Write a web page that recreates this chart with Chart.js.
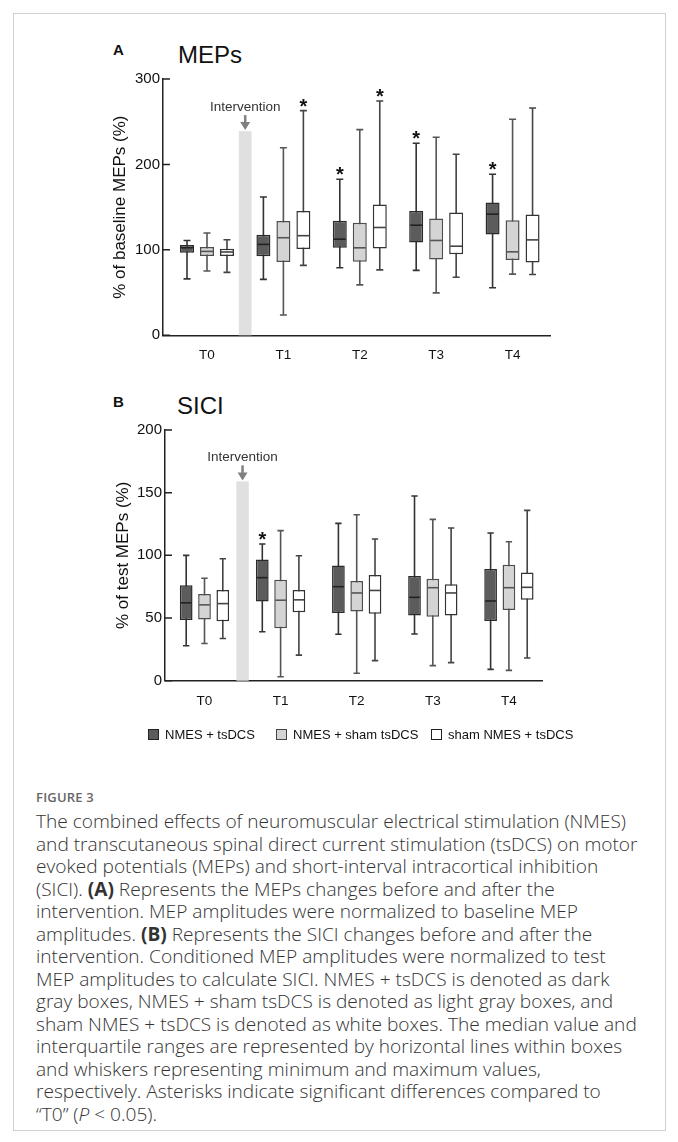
<!DOCTYPE html>
<html><head><meta charset="utf-8">
<script src="https://cdn.jsdelivr.net/npm/chart.js@4.4.1/dist/chart.umd.min.js"></script>
<style>
html,body{margin:0;padding:0;background:#fff;}
body{width:678px;height:1142px;position:relative;overflow:hidden;font-family:"Liberation Sans",Arial,sans-serif;}
#frame{position:absolute;left:13px;top:13px;width:653px;height:1118px;border:1.5px solid #d0d0d0;box-sizing:border-box;}
canvas{position:absolute;left:0;}
.plabel{position:absolute;font-weight:bold;font-size:15px;color:#111;line-height:1;}
.ptitle{position:absolute;font-size:24px;color:#111;line-height:1;}
#legend{position:absolute;top:727px;left:0;width:678px;height:16px;font-size:13px;color:#111;}
.li{position:absolute;top:0;display:flex;align-items:center;white-space:nowrap;}
.sw{width:11px;height:11px;border:1.3px solid #222;margin-right:6px;box-sizing:border-box;}
#figlab{position:absolute;left:36px;top:788px;font-family:"Open Sans",sans-serif;font-weight:600;font-size:13px;color:#666;letter-spacing:0.2px;}
#caption{position:absolute;left:36px;top:810px;font-family:"Open Sans",sans-serif;font-weight:300;font-size:19.1px;line-height:22.5px;color:#333;}
#caption div{white-space:nowrap;}
#caption b{font-weight:700;}
</style></head>
<body>
<div id="frame"></div>
<div class="plabel" style="left:113px;top:42px;">A</div>
<div class="ptitle" style="left:178px;top:43px;">MEPs</div>
<canvas id="cA" width="678" height="380" style="top:0"></canvas>
<div class="plabel" style="left:113px;top:394px;">B</div>
<div class="ptitle" style="left:177px;top:394px;">SICI</div>
<canvas id="cB" width="678" height="350" style="top:380px"></canvas>
<div id="legend"></div>
<div id="figlab">FIGURE 3</div>
<div id="caption">
<div>The combined effects of neuromuscular electrical stimulation (NMES)</div>
<div>and transcutaneous spinal direct current stimulation (tsDCS) on motor</div>
<div>evoked potentials (MEPs) and short-interval intracortical inhibition</div>
<div>(SICI). <b>(A)</b> Represents the MEPs changes before and after the</div>
<div>intervention. MEP amplitudes were normalized to baseline MEP</div>
<div>amplitudes. <b>(B)</b> Represents the SICI changes before and after the</div>
<div>intervention. Conditioned MEP amplitudes were normalized to test</div>
<div>MEP amplitudes to calculate SICI. NMES + tsDCS is denoted as dark</div>
<div>gray boxes, NMES + sham tsDCS is denoted as light gray boxes, and</div>
<div>sham NMES + tsDCS is denoted as white boxes. The median value and</div>
<div>interquartile ranges are represented by horizontal lines within boxes</div>
<div>and whiskers representing minimum and maximum values,</div>
<div>respectively. Asterisks indicate significant differences compared to</div>
<div>“T0” (<i>P</i> &lt; 0.05).</div>
</div>
<script>
// ---- categories / series ----
const timepoints = ['T0', 'T1', 'T2', 'T3', 'T4'];
const seriesNames = ['NMES + tsDCS', 'NMES + sham tsDCS', 'sham NMES + tsDCS'];

// ---- Panel A: MEPs (% of baseline) ----
const mepDarkMin  = [66, 65.5, 79, 76, 55.6];
const mepDarkQ1   = [96.7, 92.4, 102.4, 108.6, 118];
const mepDarkMed  = [102.5, 106.4, 112.5, 128.9, 141.8];
const mepDarkQ3   = [105.6, 117.7, 134, 145.6, 155.4];
const mepDarkMax  = [111, 161.8, 182.7, 224.8, 188.5];
const mepDarkSig  = [0, 0, 1, 1, 1];

const mepLightMin = [75.2, 23.8, 59, 49.7, 71.6];
const mepLightQ1  = [92.8, 85.8, 86, 88.7, 88];
const mepLightMed = [98.2, 114.2, 102.4, 111, 97.7];
const mepLightQ3  = [103.3, 133.7, 131.6, 136.7, 134.7];
const mepLightMax = [119.7, 219.5, 240.8, 231.8, 252.9];
const mepLightSig = [0, 0, 0, 0, 0];

const mepWhiteMin = [73.7, 81.9, 76.6, 68, 71.2];
const mepWhiteQ1  = [92.8, 101, 101.6, 95, 85.3];
const mepWhiteMed = [97.5, 116.6, 126.2, 104.3, 111.7];
const mepWhiteQ3  = [101.4, 145.4, 153, 143.7, 141.4];
const mepWhiteMax = [111.9, 263, 274.3, 211.9, 266];
const mepWhiteSig = [0, 1, 1, 0, 0];

const mepTicks = [0, 100, 200, 300];
const mepInterventionTop = 239;

// ---- Panel B: SICI (% of test MEPs) ----
const siciDarkMin  = [27.9, 39, 37, 37.2, 9];
const siciDarkQ1   = [48.5, 63.1, 54, 52.1, 47.6];
const siciDarkMed  = [62.1, 82.2, 75, 66.5, 63.6];
const siciDarkQ3   = [76.1, 96.6, 92, 83.5, 89.1];
const siciDarkMax  = [100, 109, 125.5, 147.3, 117.8];
const siciDarkSig  = [0, 1, 0, 0, 0];

const siciLightMin = [29.7, 3.2, 5.9, 12, 8.2];
const siciLightQ1  = [48.8, 41.9, 55.3, 51.1, 56.4];
const siciLightMed = [60.5, 64.2, 70, 74.2, 74.2];
const siciLightQ3  = [69.2, 80.6, 79.5, 81.4, 92.6];
const siciLightMax = [81.7, 119.7, 132.4, 128.7, 110.9];
const siciLightSig = [0, 0, 0, 0, 0];

const siciWhiteMin = [33.7, 20.4, 16, 14.4, 18.1];
const siciWhiteQ1  = [47.5, 54.6, 53.5, 52.1, 64.6];
const siciWhiteMed = [61.5, 64.5, 72, 70, 74.5];
const siciWhiteQ3  = [72.4, 72.4, 84.3, 76.9, 86.4];
const siciWhiteMax = [97.3, 99.7, 113, 121.8, 135.9];
const siciWhiteSig = [0, 0, 0, 0, 0];

const siciTicks = [0, 50, 100, 150, 200];
const siciInterventionTop = 159;

const interventionAt = 0.5; // between T0 and T1

// ---- styles ----
const styles = [
  {fill: '#5c5c5c', border: '#2a2a2a', whisker: '#333333', median: '#222222'},
  {fill: '#d4d4d4', border: '#4d4d4d', whisker: '#555555', median: '#555555'},
  {fill: '#ffffff', border: '#333333', whisker: '#444444', median: '#444444'}
];
const FONT = '"Liberation Sans", Arial, sans-serif';

function makeDataset(i, q1, q3, min, med, max, sig) {
  return {
    label: seriesNames[i],
    data: timepoints.map((t, k) => ({x: k, y: [q1[k], q3[k]]})),
    backgroundColor: styles[i].fill,
    borderColor: styles[i].border,
    borderWidth: 1.5,
    borderSkipped: false,
    stats: {min, med, max, sig},
    whiskerColor: styles[i].whisker,
    medianColor: styles[i].median
  };
}

const boxPlugin = {
  id: 'boxWhiskers',
  beforeDatasetsDraw(chart) {
    const ctx = chart.ctx, y = chart.scales.y;
    chart.data.datasets.forEach((ds, di) => {
      chart.getDatasetMeta(di).data.forEach((bar, i) => {
        const x = bar.x, cap = bar.width * 0.5;
        const yMin = y.getPixelForValue(ds.stats.min[i]);
        const yMax = y.getPixelForValue(ds.stats.max[i]);
        ctx.save();
        ctx.strokeStyle = ds.whiskerColor; ctx.lineWidth = 1.6;
        ctx.beginPath();
        ctx.moveTo(x, yMax); ctx.lineTo(x, yMin);
        ctx.moveTo(x - cap / 2, yMax); ctx.lineTo(x + cap / 2, yMax);
        ctx.moveTo(x - cap / 2, yMin); ctx.lineTo(x + cap / 2, yMin);
        ctx.stroke();
        ctx.restore();
      });
    });
  },
  afterDatasetsDraw(chart) {
    const ctx = chart.ctx, y = chart.scales.y;
    chart.data.datasets.forEach((ds, di) => {
      chart.getDatasetMeta(di).data.forEach((bar, i) => {
        const x = bar.x, w = bar.width;
        const yMed = y.getPixelForValue(ds.stats.med[i]);
        ctx.save();
        ctx.strokeStyle = ds.medianColor; ctx.lineWidth = 1.6;
        ctx.beginPath();
        ctx.moveTo(x - w / 2 + 1, yMed); ctx.lineTo(x + w / 2 - 1, yMed);
        ctx.stroke();
        if (ds.stats.sig[i]) {
          const yMax = y.getPixelForValue(ds.stats.max[i]);
          ctx.fillStyle = '#111';
          ctx.font = 'bold 20px ' + FONT;
          ctx.textAlign = 'center';
          ctx.textBaseline = 'alphabetic';
          ctx.fillText('*', x, yMax + 2);
        }
        ctx.restore();
      });
    });
  }
};

const decorPlugin = {
  id: 'decor',
  beforeDatasetsDraw(chart, args, opts) {
    const ctx = chart.ctx, x = chart.scales.x, y = chart.scales.y;
    const cx = x.getPixelForValue(opts.at);
    const top = y.getPixelForValue(opts.top);
    const bottom = y.getPixelForValue(0);
    ctx.save();
    ctx.fillStyle = '#e0e0e0';
    ctx.fillRect(cx - opts.width / 2, top, opts.width, bottom - top);
    ctx.strokeStyle = '#808080'; ctx.fillStyle = '#808080'; ctx.lineWidth = 2.5;
    ctx.beginPath(); ctx.moveTo(cx, top - 16); ctx.lineTo(cx, top - 8); ctx.stroke();
    ctx.beginPath(); ctx.moveTo(cx - 5, top - 9); ctx.lineTo(cx + 5, top - 9); ctx.lineTo(cx, top - 1); ctx.closePath(); ctx.fill();
    ctx.fillStyle = '#333';
    ctx.font = '13.5px ' + FONT;
    ctx.textAlign = 'center'; ctx.textBaseline = 'middle';
    ctx.fillText('Intervention', cx, top - 24);
    ctx.restore();
  },
  afterDraw(chart) {
    const ctx = chart.ctx, y = chart.scales.y, left = chart.chartArea.left;
    ctx.save();
    ctx.strokeStyle = '#222'; ctx.lineWidth = 1.5;
    ctx.beginPath();
    y.ticks.forEach((t, i) => {
      const py = y.getPixelForTick(i);
      ctx.moveTo(left, py); ctx.lineTo(left + 7, py);
    });
    ctx.stroke();
    ctx.restore();
  }
};

function makeChart(id, datasets, cfg) {
  return new Chart(document.getElementById(id), {
    type: 'bar',
    data: {datasets},
    options: {
      responsive: false, animation: false,
      datasets: {bar: {categoryPercentage: cfg.catPct, barPercentage: cfg.barPct, grouped: true}},
      layout: {padding: cfg.padding},
      plugins: {legend: {display: false}, tooltip: {enabled: false},
        decor: {at: interventionAt, top: cfg.intTop, width: cfg.intWidth}},
      scales: {
        x: {
          type: 'linear', offset: false, min: cfg.xMin, max: cfg.xMax,
          grid: {display: false, drawTicks: false, offset: false},
          border: {display: true, color: '#222', width: 1.5},
          afterBuildTicks: s => { s.ticks = timepoints.map((t, i) => ({value: i})); },
          afterFit: s => { s.height = 30; },
          ticks: {callback: v => timepoints[v], padding: 12, color: '#111', font: {family: FONT, size: 13.5}, autoSkip: false, maxRotation: 0}
        },
        y: {
          type: 'linear', min: cfg.yTicks[0], max: cfg.yTicks[cfg.yTicks.length - 1],
          grid: {display: false, drawTicks: false},
          border: {display: true, color: '#222', width: 1.5},
          afterBuildTicks: s => { s.ticks = cfg.yTicks.map(v => ({value: v})); },
          afterFit: s => { s.width = 60; },
          ticks: {padding: 3, color: '#111', font: {family: FONT, size: 15}},
          title: {display: true, text: cfg.yTitle, color: '#111', font: {family: FONT, size: 17}, padding: {top: cfg.titlePad, bottom: 0}}
        }
      }
    },
    plugins: [decorPlugin, boxPlugin]
  });
}

makeChart('cA', [
  makeDataset(0, mepDarkQ1, mepDarkQ3, mepDarkMin, mepDarkMed, mepDarkMax, mepDarkSig),
  makeDataset(1, mepLightQ1, mepLightQ3, mepLightMin, mepLightMed, mepLightMax, mepLightSig),
  makeDataset(2, mepWhiteQ1, mepWhiteQ3, mepWhiteMin, mepWhiteMed, mepWhiteMax, mepWhiteSig)
], {
  catPct: 0.785, barPct: 0.70,
  padding: {left: 103, right: 128, top: 79, bottom: 14.7},
  xMin: -0.576, xMax: 4.49, yTicks: mepTicks, yTitle: '% of baseline MEPs (%)', titlePad: 7,
  intTop: mepInterventionTop, intWidth: 12.7
});

makeChart('cB', [
  makeDataset(0, siciDarkQ1, siciDarkQ3, siciDarkMin, siciDarkMed, siciDarkMax, siciDarkSig),
  makeDataset(1, siciLightQ1, siciLightQ3, siciLightMin, siciLightMed, siciLightMax, siciLightSig),
  makeDataset(2, siciWhiteQ1, siciWhiteQ3, siciWhiteMin, siciWhiteMed, siciWhiteMax, siciWhiteSig)
], {
  catPct: 0.7214, barPct: 0.694,
  padding: {left: 105, right: 135.3, top: 50, bottom: 19.3},
  xMin: -0.519, xMax: 4.444, yTicks: siciTicks, yTitle: '% of test MEPs (%)', titlePad: 8,
  intTop: siciInterventionTop, intWidth: 12.4
});

// legend (HTML, built from series names)
const legend = document.getElementById('legend');
const legendX = [148, 276, 431];
seriesNames.forEach((name, i) => {
  const item = document.createElement('div');
  item.className = 'li';
  item.style.left = legendX[i] + 'px';
  const sw = document.createElement('div');
  sw.className = 'sw';
  sw.style.background = styles[i].fill;
  sw.style.borderColor = i === 1 ? '#444' : '#222';
  const tx = document.createElement('span');
  tx.textContent = name;
  item.appendChild(sw); item.appendChild(tx);
  legend.appendChild(item);
});
</script>
</body></html>
